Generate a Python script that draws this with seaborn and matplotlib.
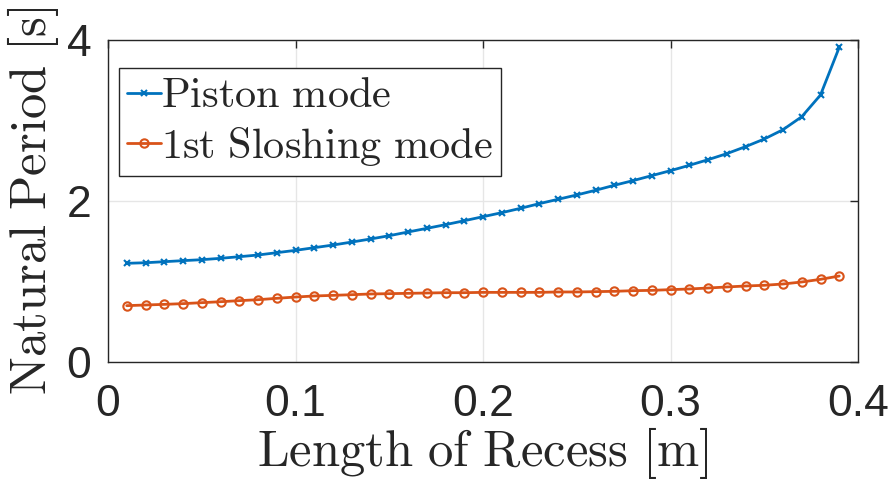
import numpy as np
import pandas as pd
import matplotlib
matplotlib.use("Agg")
import matplotlib.pyplot as plt
import seaborn as sns

recess_length = [0.01, 0.02, 0.03, 0.04, 0.05, 0.06, 0.07, 0.08, 0.09, 0.10,
                 0.11, 0.12, 0.13, 0.14, 0.15, 0.16, 0.17, 0.18, 0.19, 0.20,
                 0.21, 0.22, 0.23, 0.24, 0.25, 0.26, 0.27, 0.28, 0.29, 0.30,
                 0.31, 0.32, 0.33, 0.34, 0.35, 0.36, 0.37, 0.38, 0.39]
piston_period = [1.226, 1.233, 1.246, 1.259, 1.271, 1.288, 1.308, 1.329, 1.358, 1.387,
                 1.420, 1.453, 1.490, 1.528, 1.569, 1.615, 1.660, 1.706, 1.755, 1.805,
                 1.855, 1.909, 1.967, 2.021, 2.075, 2.133, 2.195, 2.253, 2.315, 2.377,
                 2.443, 2.513, 2.588, 2.675, 2.770, 2.886, 3.047, 3.317, 3.909]
sloshing_period = [0.700, 0.708, 0.716, 0.725, 0.737, 0.749, 0.762, 0.774, 0.791, 0.807,
                   0.820, 0.828, 0.836, 0.845, 0.849, 0.853, 0.857, 0.861, 0.861, 0.865,
                   0.865, 0.865, 0.865, 0.870, 0.870, 0.874, 0.878, 0.886, 0.890, 0.899,
                   0.907, 0.919, 0.932, 0.944, 0.953, 0.969, 0.994, 1.027, 1.068]
series_names = ["Piston mode", "1st Sloshing mode"]
x_ticks = [0, 0.1, 0.2, 0.3, 0.4]
x_tick_labels = ["0", "0.1", "0.2", "0.3", "0.4"]
y_ticks = [0, 2, 4]
y_tick_labels = ["0", "2", "4"]

sns.set_style("white")
plt.rcParams["mathtext.fontset"] = "cm"
plt.rcParams["font.family"] = ["Liberation Sans", "DejaVu Sans"]

df = pd.DataFrame({
    "x": recess_length * 2,
    "y": piston_period + sloshing_period,
    "mode": [series_names[0]] * len(recess_length) + [series_names[1]] * len(recess_length),
})

fig = plt.figure(figsize=(8.91, 4.86), dpi=100)
ax = fig.add_axes([108 / 891, 1 - 362 / 486, (858 - 108) / 891, (362 - 40) / 486])

colors = {"Piston mode": "#0072BD", "1st Sloshing mode": "#D95319"}
c0, c1 = colors[series_names[0]], colors[series_names[1]]
sns.lineplot(data=df[df["mode"] == series_names[0]], x="x", y="y", ax=ax,
             color=c0, marker="x", markersize=4.5, markeredgecolor=c0,
             markeredgewidth=1.5, linewidth=2, label=r"$\mathrm{Piston\ mode}$")
sns.lineplot(data=df[df["mode"] == series_names[1]], x="x", y="y", ax=ax,
             color=c1, marker="o", markersize=6,
             markerfacecolor="none", markeredgecolor=c1,
             markeredgewidth=1.5, linewidth=2, label=r"$\mathrm{1st\ Sloshing\ mode}$")

ax.set_xlim(0, 0.4)
ax.set_ylim(0, 4)
ax.set_xticks(x_ticks)
ax.set_xticklabels(x_tick_labels)
ax.set_yticks(y_ticks)
ax.set_yticklabels(y_tick_labels)
ax.tick_params(axis="both", direction="in", length=6, width=1, labelsize=32,
               top=True, right=True, colors="#262626", labelcolor="#262626")
ax.tick_params(axis="x", pad=16)
ax.tick_params(axis="y", pad=12)
ax.grid(True, color="#E6E6E6", linewidth=1)
for s in ax.spines.values():
    s.set_color("#262626")
    s.set_linewidth(1)

ax.set_xlabel(r"$\mathrm{Length\ of\ Recess\ [m]}$", fontsize=36.5, color="#262626", labelpad=0)
ax.set_ylabel(r"$\mathrm{Natural\ Period\ [s]}$", fontsize=36.5, color="#262626", labelpad=4)

leg = ax.legend(loc="upper left", bbox_to_anchor=(11 / 750, 1 - 28 / 322), fontsize=30.5,
                frameon=True, fancybox=False, edgecolor="#262626", framealpha=1,
                handlelength=0.8, handletextpad=0.0, borderpad=0.2, labelspacing=0.2,
                borderaxespad=0)
leg.get_frame().set_linewidth(1)

fig.savefig("out.png", dpi=100)
